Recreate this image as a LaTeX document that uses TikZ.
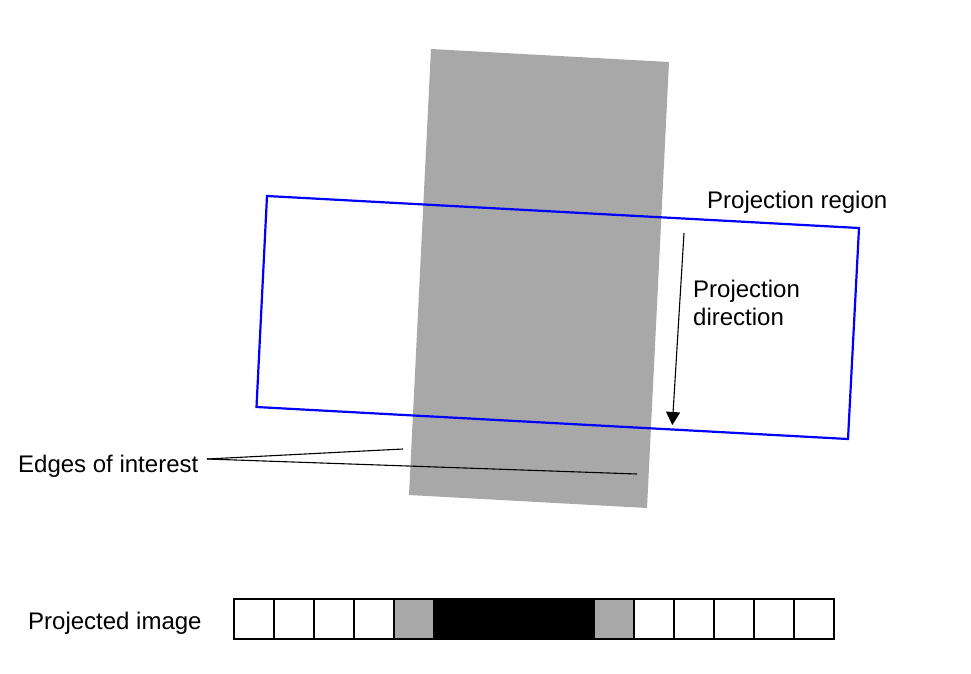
\documentclass[tikz,border=0pt]{standalone}
\usepackage{fontspec}
\setmainfont{Liberation Sans}
\usetikzlibrary{arrows.meta}
\definecolor{plategray}{RGB}{168,168,168}
\definecolor{regionblue}{RGB}{0,0,255}
\tikzset{
  lbl/.style={inner sep=0pt, anchor=base west, font=\fontsize{24}{28.5}\selectfont, align=left},
  cellbox/.style={draw=black, line width=2pt, minimum width=40pt, minimum height=40pt, inner sep=0pt, outer sep=0pt},
  thinline/.style={line width=1.1pt, black},
  regionline/.style={draw=regionblue, line width=2.2pt, line join=miter},
}
\begin{document}
\begin{tikzpicture}[x=1pt,y=-1pt]
\useasboundingbox (0,0) rectangle (971,674);
% gray plate
\coordinate (g1) at (431,49);
\coordinate (g2) at (669,62);
\coordinate (g3) at (647,508);
\coordinate (g4) at (409,495);
\fill[plategray] (g1) -- (g2) -- (g3) -- (g4) -- cycle;
% projection region
\coordinate (b1) at (267,196);
\coordinate (b2) at (859,228);
\coordinate (b3) at (848,439);
\coordinate (b4) at (256.5,407);
\draw[regionline] (b1) -- (b2) -- (b3) -- (b4) -- cycle;
% labels
\node[lbl] (preg) at (707,208) {Projection region};
\node[lbl] (pdir) at (693,325.5) {Projection\\direction};
\node[lbl] (eoi) at (18,472) {Edges of interest};
\node[lbl] (pim) at (28,629) {Projected image};
% projection direction arrow
\coordinate (a1) at (684,233);
\coordinate (a2) at (672.3,425);
\draw[thinline, -{Triangle[length=13pt,width=14pt]}] (a1) -- (a2);
% edges of interest
\coordinate (ej) at (207,459);
\coordinate (e1) at (403,449);
\coordinate (e2) at (637,474);
\draw[thinline] (ej) -- (e1);
\draw[thinline] (ej) -- (e2);
% projected image strip
\foreach \i/\c in {0/white,1/white,2/white,3/white,4/plategray,5/black,6/black,7/black,8/black,9/plategray,10/white,11/white,12/white,13/white,14/white}{
  \node[cellbox, fill=\c] (c\i) at ({253.5+40*\i},618.5) {};
}
\end{tikzpicture}
\end{document}
